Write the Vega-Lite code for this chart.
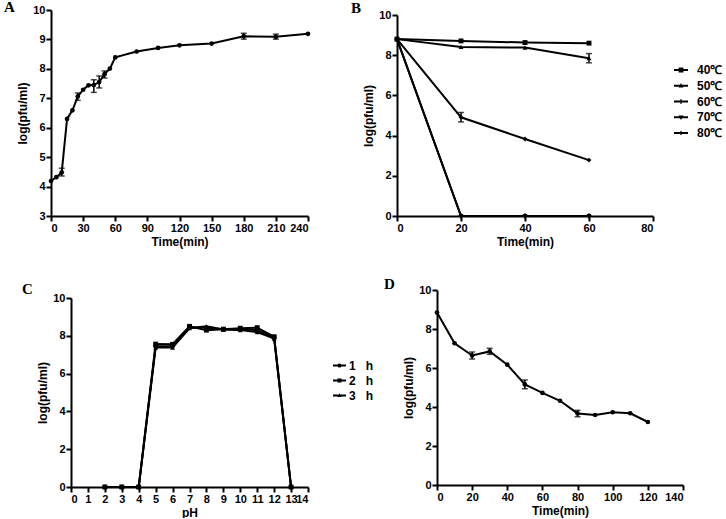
{
  "$schema": "https://vega.github.io/schema/vega-lite/v6.json",
  "padding": {"left": 4, "top": 0, "right": 0, "bottom": 0},
  "background": "white",
  "bounds": "flush",
  "columns": 2,
  "spacing": {"row": 74, "column": 89},
  "config": {
    "font": "Liberation Sans",
    "view": {"stroke": null},
    "axis": {
      "grid": false, "labelOverlap": false, "format": "d",
      "domainColor": "black", "domainWidth": 2,
      "tickColor": "black", "tickWidth": 2, "tickSize": 5,
      "labelFont": "Liberation Sans", "labelFontWeight": "bold", "labelFontSize": 11, "labelColor": "black", "labelPadding": 1,
      "titleFont": "Liberation Sans", "titleFontWeight": "bold", "titleFontSize": 12, "titleColor": "black", "titlePadding": 3
    },
    "axisY": {"labelOverlap": false},
    "legend": {
      "labelFont": "Liberation Sans", "labelFontWeight": "bold", "labelFontSize": 12, "labelColor": "black",
      "padding": 0, "rowPadding": 2
    },
    "title": {"font": "Liberation Serif", "fontSize": 15, "fontWeight": "bold", "color": "black", "anchor": "start", "frame": "group", "baseline": "alphabetic"}
  },
  "concat": [
    {
      "width": 257, "height": 206,
      "title": {"text": "A", "dx": -47, "offset": -11},
      "data": {"values": [
        {"t": 0, "v": 4.19}, {"t": 5, "v": 4.32}, {"t": 10, "v": 4.48, "lo": 4.36, "hi": 4.62},
        {"t": 15, "v": 6.3}, {"t": 20, "v": 6.59}, {"t": 25, "v": 7.06, "lo": 6.93, "hi": 7.18},
        {"t": 30, "v": 7.29}, {"t": 35, "v": 7.44}, {"t": 40, "v": 7.45, "lo": 7.2, "hi": 7.63},
        {"t": 45, "v": 7.55, "lo": 7.35, "hi": 7.76}, {"t": 50, "v": 7.82, "lo": 7.69, "hi": 7.93},
        {"t": 55, "v": 8.01}, {"t": 60, "v": 8.39}, {"t": 80, "v": 8.59}, {"t": 100, "v": 8.71},
        {"t": 120, "v": 8.8}, {"t": 150, "v": 8.86}, {"t": 180, "v": 9.11, "lo": 9.01, "hi": 9.21},
        {"t": 210, "v": 9.09, "lo": 9.01, "hi": 9.18}, {"t": 240, "v": 9.19}
      ]},
      "encoding": {
        "x": {"field": "t", "type": "quantitative", "title": "Time(min)",
              "scale": {"domain": [0, 240], "nice": false, "zero": false},
              "axis": {"values": [0, 30, 60, 90, 120, 150, 180, 210, 240], "format": "d", "labelOverlap": false, "tickCount": 20}}
      },
      "layer": [
        {"mark": {"type": "line", "color": "black", "strokeWidth": 2},
         "encoding": {"y": {"field": "v", "type": "quantitative", "title": "log(pfu/ml)",
                            "scale": {"domain": [3, 10], "nice": false, "zero": false},
                            "axis": {"values": [3, 4, 5, 6, 7, 8, 9, 10], "format": "d", "labelOverlap": false, "tickCount": 20}}}},
        {"mark": {"type": "rule", "color": "black", "strokeWidth": 1.5},
         "encoding": {"y": {"field": "lo", "type": "quantitative", "title": "log(pfu/ml)"}, "y2": {"field": "hi"}}},
        {"mark": {"type": "tick", "orient": "horizontal", "color": "black", "size": 6, "thickness": 1.5},
         "encoding": {"y": {"field": "lo", "type": "quantitative", "title": "log(pfu/ml)"}}},
        {"mark": {"type": "tick", "orient": "horizontal", "color": "black", "size": 6, "thickness": 1.5},
         "encoding": {"y": {"field": "hi", "type": "quantitative", "title": "log(pfu/ml)"}}},
        {"mark": {"type": "point", "filled": true, "color": "black", "size": 22, "opacity": 1},
         "encoding": {"y": {"field": "v", "type": "quantitative", "title": "log(pfu/ml)"}}}
      ]
    },
    {
      "width": 256, "height": 206,
      "title": {"text": "B", "dx": -46, "offset": -7},
      "data": {"values": [
        {"s": "40℃", "t": 0, "v": 8.8}, {"s": "40℃", "t": 20, "v": 8.71}, {"s": "40℃", "t": 40, "v": 8.63}, {"s": "40℃", "t": 60, "v": 8.6},
        {"s": "50℃", "t": 0, "v": 8.8}, {"s": "50℃", "t": 20, "v": 8.41}, {"s": "50℃", "t": 40, "v": 8.38}, {"s": "50℃", "t": 60, "v": 7.85, "lo": 7.62, "hi": 8.08},
        {"s": "60℃", "t": 0, "v": 8.8}, {"s": "60℃", "t": 20, "v": 4.91, "lo": 4.68, "hi": 5.15}, {"s": "60℃", "t": 40, "v": 3.83}, {"s": "60℃", "t": 60, "v": 2.78},
        {"s": "70℃", "t": 0, "v": 8.8}, {"s": "70℃", "t": 20, "v": 0}, {"s": "70℃", "t": 40, "v": 0}, {"s": "70℃", "t": 60, "v": 0},
        {"s": "80℃", "t": 0, "v": 8.8}, {"s": "80℃", "t": 20, "v": 0}, {"s": "80℃", "t": 40, "v": 0}, {"s": "80℃", "t": 60, "v": 0}
      ]},
      "encoding": {
        "x": {"field": "t", "type": "quantitative", "title": "Time(min)",
              "scale": {"domain": [0, 80], "nice": false, "zero": false},
              "axis": {"values": [0, 20, 40, 60, 80], "format": "d", "labelOverlap": false, "tickCount": 20}}
      },
      "resolve": {"scale": {"shape": "independent"}},
      "layer": [
        {"mark": {"type": "line", "color": "black", "strokeWidth": 2},
         "encoding": {"y": {"field": "v", "type": "quantitative", "title": "log(pfu/ml)",
                            "scale": {"domain": [0, 10], "nice": false, "zero": false, "range": [206, 5]},
                            "axis": {"values": [0, 2, 4, 6, 8, 10], "format": "d", "labelOverlap": false, "tickCount": 20}},
                      "detail": {"field": "s", "type": "nominal"}}},
        {"mark": {"type": "rule", "color": "black", "strokeWidth": 1.5},
         "encoding": {"y": {"field": "lo", "type": "quantitative", "title": "log(pfu/ml)"}, "y2": {"field": "hi"}}},
        {"mark": {"type": "tick", "orient": "horizontal", "color": "black", "size": 6, "thickness": 1.5},
         "encoding": {"y": {"field": "lo", "type": "quantitative", "title": "log(pfu/ml)"}}},
        {"mark": {"type": "tick", "orient": "horizontal", "color": "black", "size": 6, "thickness": 1.5},
         "encoding": {"y": {"field": "hi", "type": "quantitative", "title": "log(pfu/ml)"}}},
        {"mark": {"type": "point", "filled": true, "color": "black", "size": 24, "opacity": 1},
         "encoding": {"y": {"field": "v", "type": "quantitative", "title": "log(pfu/ml)"},
                      "shape": {"field": "s", "type": "nominal", "legend": null,
                                "scale": {"domain": ["40℃", "50℃", "60℃", "70℃", "80℃"],
                                          "range": ["square", "triangle-up", "diamond", "triangle-down", "cross"]}}}},
        {"data": {"values": []},
         "mark": {"type": "point", "filled": true, "color": "black", "opacity": 1},
         "encoding": {"shape": {"field": "s", "type": "nominal",
                                "scale": {"domain": ["40℃", "50℃", "60℃", "70℃", "80℃"],
                                          "range": [
                                            "M-1,-0.14H1V0.14H-1ZM-0.34,-0.34H0.34V0.34H-0.34Z",
                                            "M-1,-0.14H1V0.14H-1ZM0,-0.38L0.34,0.26H-0.34Z",
                                            "M-1,-0.14H1V0.14H-1ZM-0.1,-0.32H0.1V0.32H-0.1Z",
                                            "M-1,-0.14H1V0.14H-1ZM0,0.38L-0.36,-0.26H0.36Z",
                                            "M-1,-0.14H1V0.14H-1ZM0,-0.32L0.26,0L0,0.32L-0.26,0Z"
                                          ]},
                                "legend": {"title": null, "orient": "none", "legendX": 276, "legendY": 52,
                                           "symbolSize": 196, "labelOffset": 8, "rowPadding": 1.75}}}}
      ]
    },
    {
      "width": 257, "height": 197,
      "title": {"text": "C", "dx": -29, "offset": -7},
      "data": {"values": [
        {"s": "1 h", "p": 2, "v": 0}, {"s": "1 h", "p": 3, "v": 0}, {"s": "1 h", "p": 4, "v": 0}, {"s": "1 h", "p": 5, "v": 7.45}, {"s": "1 h", "p": 6, "v": 7.45}, {"s": "1 h", "p": 7, "v": 8.45}, {"s": "1 h", "p": 8, "v": 8.42}, {"s": "1 h", "p": 9, "v": 8.35}, {"s": "1 h", "p": 10, "v": 8.35}, {"s": "1 h", "p": 11, "v": 8.3}, {"s": "1 h", "p": 12, "v": 7.9}, {"s": "1 h", "p": 13, "v": 0},
        {"s": "2 h", "p": 2, "v": 0}, {"s": "2 h", "p": 3, "v": 0}, {"s": "2 h", "p": 4, "v": 0}, {"s": "2 h", "p": 5, "v": 7.56}, {"s": "2 h", "p": 6, "v": 7.55}, {"s": "2 h", "p": 7, "v": 8.5}, {"s": "2 h", "p": 8, "v": 8.3}, {"s": "2 h", "p": 9, "v": 8.35}, {"s": "2 h", "p": 10, "v": 8.4}, {"s": "2 h", "p": 11, "v": 8.43}, {"s": "2 h", "p": 12, "v": 7.95}, {"s": "2 h", "p": 13, "v": 0},
        {"s": "3 h", "p": 2, "v": 0}, {"s": "3 h", "p": 3, "v": 0}, {"s": "3 h", "p": 4, "v": 0}, {"s": "3 h", "p": 5, "v": 7.38}, {"s": "3 h", "p": 6, "v": 7.38}, {"s": "3 h", "p": 7, "v": 8.4}, {"s": "3 h", "p": 8, "v": 8.5}, {"s": "3 h", "p": 9, "v": 8.33}, {"s": "3 h", "p": 10, "v": 8.3}, {"s": "3 h", "p": 11, "v": 8.2}, {"s": "3 h", "p": 12, "v": 7.85}, {"s": "3 h", "p": 13, "v": 0}
      ]},
      "encoding": {
        "x": {"field": "p", "type": "quantitative", "title": "pH",
              "scale": {"domain": [0, 14], "nice": false, "zero": false, "range": [20, 257]},
              "axis": {"values": [0, 1, 2, 3, 4, 5, 6, 7, 8, 9, 10, 11, 12, 13, 14], "format": "d", "labelOverlap": false, "tickCount": 20}}
      },
      "resolve": {"scale": {"shape": "independent"}},
      "layer": [
        {"mark": {"type": "line", "color": "black", "strokeWidth": 2},
         "encoding": {"y": {"field": "v", "type": "quantitative", "title": "log(pfu/ml)",
                            "scale": {"domain": [0, 10], "nice": false, "zero": false, "range": [197, 8]},
                            "axis": {"values": [0, 2, 4, 6, 8, 10], "offset": -20, "format": "d", "labelOverlap": false, "tickCount": 20}},
                      "detail": {"field": "s", "type": "nominal"}}},
        {"mark": {"type": "point", "filled": true, "color": "black", "size": 24, "opacity": 1},
         "encoding": {"y": {"field": "v", "type": "quantitative", "title": "log(pfu/ml)"},
                      "shape": {"field": "s", "type": "nominal", "legend": null,
                                "scale": {"domain": ["1 h", "2 h", "3 h"], "range": ["circle", "square", "triangle-up"]}}}},
        {"data": {"values": []},
         "mark": {"type": "point", "filled": true, "color": "black", "opacity": 1},
         "encoding": {"shape": {"field": "s", "type": "nominal",
                                "scale": {"domain": ["1 h", "2 h", "3 h"],
                                          "range": [
                                            "M-1,-0.15H1V0.15H-1ZM-0.32,0A0.32,0.32,0,1,1,0.32,0A0.32,0.32,0,1,1,-0.32,0Z",
                                            "M-1,-0.15H1V0.15H-1ZM-0.32,-0.32H0.32V0.32H-0.32Z",
                                            "M-1,-0.15H1V0.15H-1ZM0,-0.36L0.32,0.24H-0.32Z"
                                          ]},
                                "legend": {"title": null, "orient": "none", "legendX": 281, "legendY": 68,
                                           "symbolSize": 169, "labelOffset": 2, "rowPadding": 1,
                                           "labelExpr": "replace(datum.label, ' ', '\u00a0\u00a0\u00a0')"}}}}
      ]
    },
    {
      "width": 286, "height": 195,
      "title": {"text": "D", "dx": -13, "offset": -8},
      "data": {"values": [
        {"t": 0, "v": 8.84}, {"t": 10, "v": 7.27}, {"t": 20, "v": 6.64, "lo": 6.46, "hi": 6.82},
        {"t": 30, "v": 6.85, "lo": 6.7, "hi": 7.01}, {"t": 40, "v": 6.17}, {"t": 50, "v": 5.16, "lo": 4.94, "hi": 5.38},
        {"t": 60, "v": 4.72}, {"t": 70, "v": 4.32}, {"t": 80, "v": 3.67, "lo": 3.5, "hi": 3.83},
        {"t": 90, "v": 3.59}, {"t": 100, "v": 3.73}, {"t": 110, "v": 3.68}, {"t": 120, "v": 3.23}
      ]},
      "encoding": {
        "x": {"field": "t", "type": "quantitative", "title": "Time(min)",
              "scale": {"domain": [0, 140], "nice": false, "zero": false, "range": [40, 286]},
              "axis": {"values": [0, 20, 40, 60, 80, 100, 120, 140], "format": "d", "labelOverlap": false, "tickCount": 20}}
      },
      "layer": [
        {"mark": {"type": "line", "color": "black", "strokeWidth": 2},
         "encoding": {"y": {"field": "v", "type": "quantitative", "title": "log(pfu/ml)",
                            "scale": {"domain": [0, 10], "nice": false, "zero": false},
                            "axis": {"values": [0, 2, 4, 6, 8, 10], "offset": -40, "format": "d", "labelOverlap": false, "tickCount": 20}}}},
        {"mark": {"type": "rule", "color": "black", "strokeWidth": 1.5},
         "encoding": {"y": {"field": "lo", "type": "quantitative", "title": "log(pfu/ml)"}, "y2": {"field": "hi"}}},
        {"mark": {"type": "tick", "orient": "horizontal", "color": "black", "size": 6, "thickness": 1.5},
         "encoding": {"y": {"field": "lo", "type": "quantitative", "title": "log(pfu/ml)"}}},
        {"mark": {"type": "tick", "orient": "horizontal", "color": "black", "size": 6, "thickness": 1.5},
         "encoding": {"y": {"field": "hi", "type": "quantitative", "title": "log(pfu/ml)"}}},
        {"mark": {"type": "point", "filled": true, "color": "black", "size": 22, "opacity": 1},
         "encoding": {"y": {"field": "v", "type": "quantitative", "title": "log(pfu/ml)"}}}
      ]
    }
  ]
}
